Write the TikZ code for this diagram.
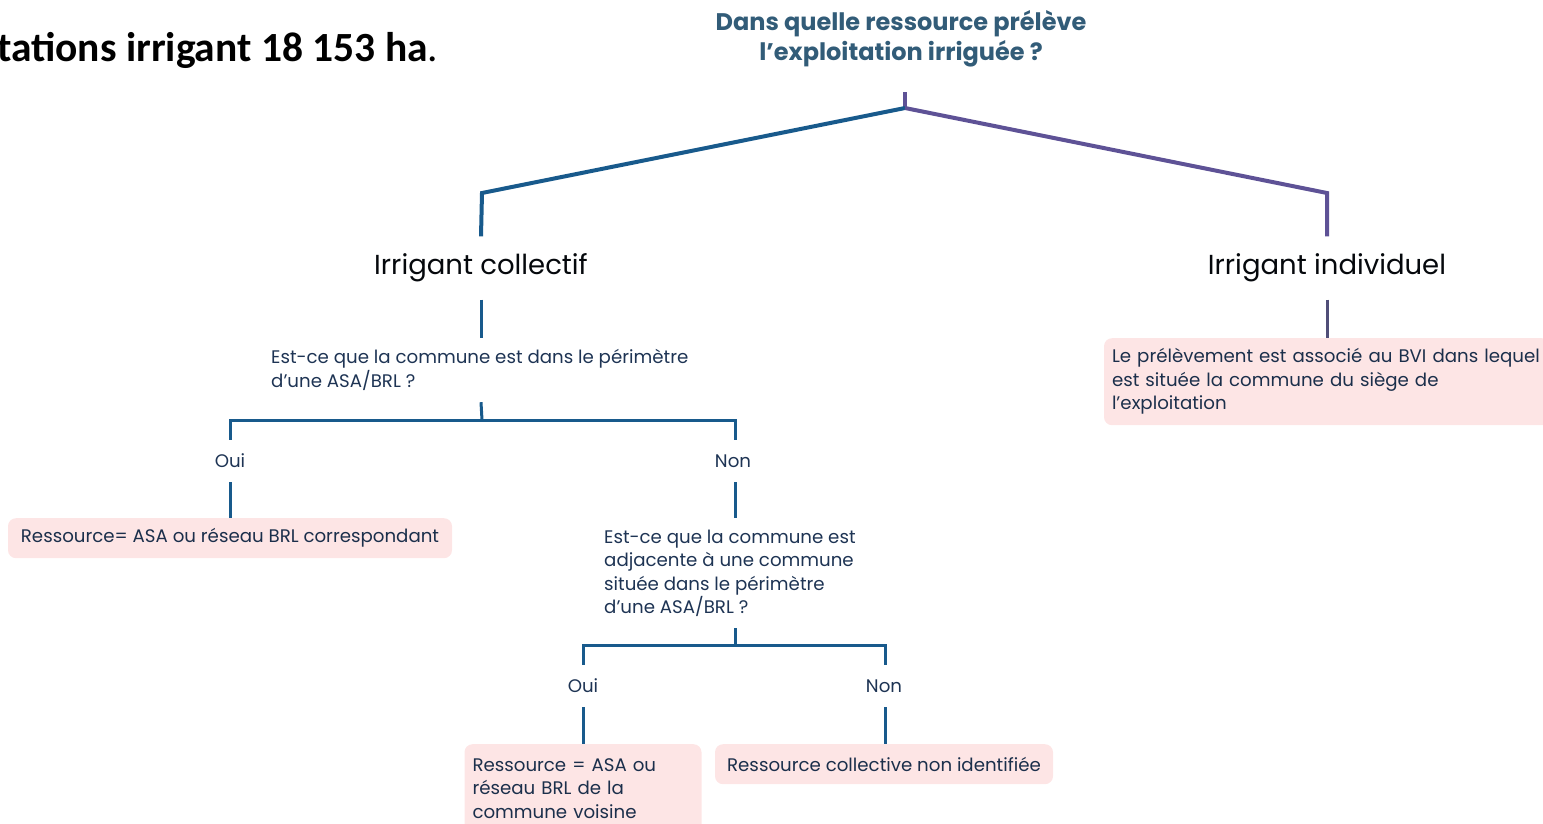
\documentclass[tikz,border=0pt]{standalone}
\usepackage{fontspec}
\setmainfont{Poppins}
\newfontfamily\calibrifont{Carlito}
\usetikzlibrary{positioning}
\definecolor{treeblue}{RGB}{24,90,140}
\definecolor{treepurple}{RGB}{94,82,150}
\definecolor{darkpurple}{RGB}{80,78,120}
\definecolor{titleblue}{RGB}{32,78,108}
\definecolor{textblue}{RGB}{30,52,84}
\definecolor{boxpink}{RGB}{253,229,229}

\begin{document}
\begin{tikzpicture}[x=1pt, y=-1pt, every node/.style={inner sep=0pt},
	branch/.style={line width=3pt},
	label/.style={font=\fontsize{18.2}{23.5}\selectfont, text=textblue, minimum height=42pt},
	pinkbox/.style={fill=boxpink, rounded corners=8pt, font=\fontsize{18.2}{23.5}\selectfont, text=textblue!90!black, inner xsep=8pt, minimum height=40pt}]
	\useasboundingbox (0,0) rectangle (1543,823);
	\clip (0,0) rectangle (1543,823);
	% heading cut off on the left
	\node[anchor=base west, font=\calibrifont\fontsize{41.5}{50}\selectfont] (intro) at (-3,61) {\textbf{tations irrigant 18 153 ha}.};
	% question on top
	\node[font=\bfseries\fontsize{24}{30}\selectfont, text=titleblue!92, align=center, minimum height=106pt] (title) at (901,39) {Dans quelle ressource prélève\\l’exploitation irriguée ?};
	\coordinate (fork) at (905,108);
	\coordinate (lknee) at (482,193);
	\coordinate (rknee) at (1327,193);
	\node[font=\fontsize{27.5}{32}\selectfont, text=black!85!textblue, minimum height=63pt] (coll) at (481,268) {Irrigant collectif};
	\node[font=\fontsize{27.5}{32}\selectfont, text=black!85!textblue, minimum height=63pt] (indiv) at (1327,268) {Irrigant individuel};
	\draw[treepurple, line width=3.5pt] (fork |- title.south) -- (fork);
	\draw[treeblue, line width=4pt] (fork) -- (lknee) -- (coll.north);
	\draw[treepurple, line width=4pt] (fork) -- (rknee) -- (indiv.north);
	% collective branch
	\node[label, align=left, minimum height=64pt, anchor=west] (q1) at (271,370) {Est-ce que la commune est dans le périmètre\\d’une ASA/BRL ?};
	\draw[treeblue, branch] (coll.south) -- (coll |- q1.north);
	\coordinate (bar1) at (482,420);
	\coordinate (bar1l) at (230,420);
	\coordinate (bar1r) at (735,420);
	\node[label] (oui1) at (230,461) {Oui};
	\node[label] (non1) at (733,461) {Non};
	\draw[treeblue, branch] (coll |- q1.south) -- (bar1);
	\draw[treeblue, branch] (oui1.north) -- (bar1l) -- (bar1r) -- (bar1r |- non1.north);
	\node[pinkbox, anchor=north, minimum width=444pt] (res1) at (230,518) {Ressource= ASA ou réseau BRL correspondant};
	\draw[treeblue, branch] (oui1.south) -- (res1.north);
	\node[label, align=left, minimum height=110pt, anchor=north west] (q2) at (604,518) {Est-ce que la commune est\\adjacente à une commune\\située dans le périmètre\\d’une ASA/BRL ?};
	\draw[treeblue, branch] (bar1r |- non1.south) -- (bar1r |- q2.north);
	\coordinate (bar2) at (735,645);
	\coordinate (bar2l) at (583,645);
	\coordinate (bar2r) at (885,645);
	\node[label] (oui2) at (583,686) {Oui};
	\node[label] (non2) at (884,686) {Non};
	\draw[treeblue, branch] (bar1r |- q2.south) -- (bar2);
	\draw[treeblue, branch] (oui2.north) -- (bar2l) -- (bar2r) -- (bar2r |- non2.north);
	\node[pinkbox, anchor=north, text width=221pt, align=left, inner ysep=14pt, minimum height=0pt] (res2) at (583,744) {Ressource = ASA ou\\réseau BRL de la\\commune voisine};
	\node[pinkbox, anchor=north, minimum width=338pt] (res3) at (884,744) {Ressource collective non identifiée};
	\draw[treeblue, branch] (oui2.south) -- (res2.north);
	\draw[treeblue, branch] (bar2r |- non2.south) -- (bar2r |- res3.north);
	% individual branch
	\node[pinkbox, anchor=north, text width=430pt, align=left, minimum height=87pt] (res4) at (1327,338) {Le prélèvement est associé au BVI dans lequel\\est située la commune du siège de\\l'exploitation};
	\draw[darkpurple, branch] (indiv.south) -- (res4.north);
\end{tikzpicture}
\end{document}
